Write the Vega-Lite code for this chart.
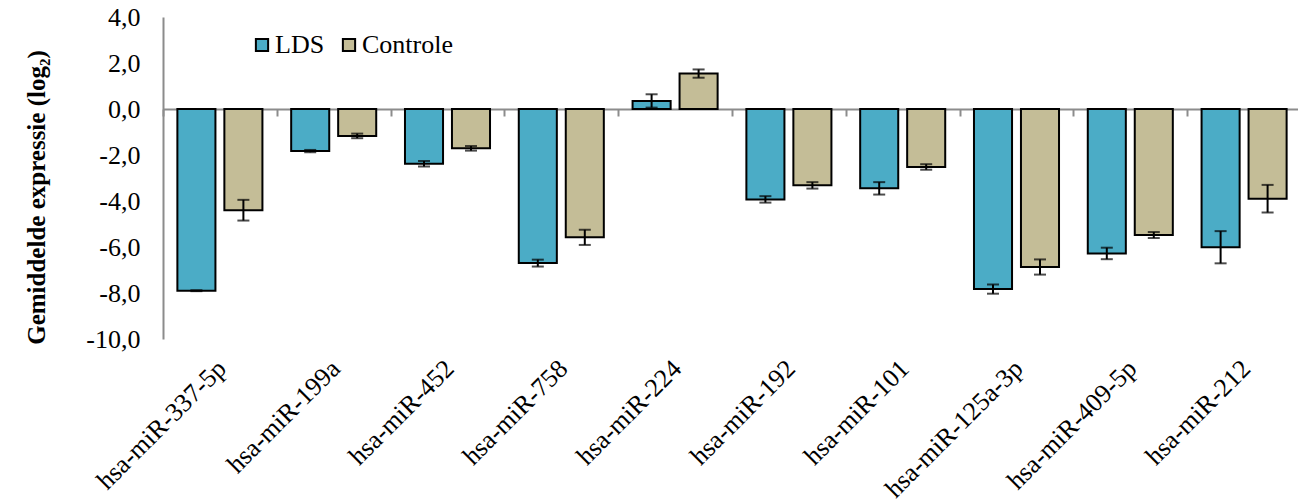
{
  "$schema": "https://vega.github.io/schema/vega-lite/v6.json",
  "autosize": {"type": "none"},
  "padding": {"left": 163, "top": 17, "right": 0, "bottom": 165},
  "width": 1138,
  "height": 322,
  "config": {
    "font": "Liberation Serif",
    "view": {"stroke": null}
  },
  "data": {
    "values": [
      {"mir": "hsa-miR-337-5p", "grp": "LDS", "v": -7.9, "lo": -7.92, "hi": -7.88},
      {"mir": "hsa-miR-337-5p", "grp": "Controle", "v": -4.4, "lo": -4.85, "hi": -3.95},
      {"mir": "hsa-miR-199a", "grp": "LDS", "v": -1.83, "lo": -1.88, "hi": -1.78},
      {"mir": "hsa-miR-199a", "grp": "Controle", "v": -1.17, "lo": -1.27, "hi": -1.07},
      {"mir": "hsa-miR-452", "grp": "LDS", "v": -2.38, "lo": -2.5, "hi": -2.26},
      {"mir": "hsa-miR-452", "grp": "Controle", "v": -1.71, "lo": -1.81, "hi": -1.61},
      {"mir": "hsa-miR-758", "grp": "LDS", "v": -6.7, "lo": -6.85, "hi": -6.55},
      {"mir": "hsa-miR-758", "grp": "Controle", "v": -5.58, "lo": -5.91, "hi": -5.25},
      {"mir": "hsa-miR-224", "grp": "LDS", "v": 0.35, "lo": 0.06, "hi": 0.64},
      {"mir": "hsa-miR-224", "grp": "Controle", "v": 1.54, "lo": 1.36, "hi": 1.72},
      {"mir": "hsa-miR-192", "grp": "LDS", "v": -3.93, "lo": -4.07, "hi": -3.79},
      {"mir": "hsa-miR-192", "grp": "Controle", "v": -3.32, "lo": -3.46, "hi": -3.18},
      {"mir": "hsa-miR-101", "grp": "LDS", "v": -3.45, "lo": -3.72, "hi": -3.18},
      {"mir": "hsa-miR-101", "grp": "Controle", "v": -2.52, "lo": -2.64, "hi": -2.4},
      {"mir": "hsa-miR-125a-3p", "grp": "LDS", "v": -7.83, "lo": -8.03, "hi": -7.63},
      {"mir": "hsa-miR-125a-3p", "grp": "Controle", "v": -6.87, "lo": -7.2, "hi": -6.54},
      {"mir": "hsa-miR-409-5p", "grp": "LDS", "v": -6.28, "lo": -6.53, "hi": -6.03},
      {"mir": "hsa-miR-409-5p", "grp": "Controle", "v": -5.48, "lo": -5.61, "hi": -5.35},
      {"mir": "hsa-miR-212", "grp": "LDS", "v": -6.01, "lo": -6.71, "hi": -5.31},
      {"mir": "hsa-miR-212", "grp": "Controle", "v": -3.9, "lo": -4.5, "hi": -3.3}
    ]
  },
  "resolve": {"axis": {"x": "independent"}},
  "layer": [
    {
      "mark": {"type": "bar", "stroke": "#000000", "strokeWidth": 2},
      "encoding": {
        "x": {
          "field": "mir", "type": "nominal", "sort": null,
          "scale": {"paddingInner": 0, "paddingOuter": 0},
          "axis": {
            "orient": "bottom", "title": null, "domain": false, "ticks": false,
            "labelAngle": -45, "labelFontSize": 26, "labelColor": "#000000",
            "labelPadding": 16, "labelOffset": -7, "labelLimit": 300, "labelFont": "Liberation Serif"
          }
        },
        "xOffset": {
          "field": "grp", "type": "nominal", "sort": ["LDS", "Controle"],
          "scale": {"paddingInner": 0.19, "paddingOuter": 0.306}
        },
        "y": {
          "field": "v", "type": "quantitative",
          "scale": {"domain": [-10, 4], "nice": false},
          "axis": {
            "values": [-10, -8, -6, -4, -2, 0, 2, 4],
            "labelExpr": "replace(replace(format(datum.value, '.1f'), '.', ','), '−', '-')",
            "grid": false, "ticks": false, "domainColor": "#8c8c8c", "domainWidth": 2,
            "labelFontSize": 26, "labelColor": "#000000", "labelPadding": 23,
            "labelFont": "Liberation Serif",
            "title": "Gemiddelde expressie (log₂)",
            "titleFontSize": 25, "titleFontWeight": "bold", "titleColor": "#000000",
            "titleFont": "Liberation Serif", "titlePadding": 36,
            "titleY": 180
          }
        },
        "color": {
          "field": "grp", "type": "nominal", "sort": ["LDS", "Controle"],
          "scale": {"domain": ["LDS", "Controle"], "range": ["#4BACC6", "#C4BD97"]},
          "legend": {
            "orient": "none", "legendX": 86, "legendY": 15, "direction": "horizontal",
            "title": null, "symbolType": "square", "symbolSize": 150,
            "symbolStrokeColor": "#000000", "symbolStrokeWidth": 2,
            "labelFontSize": 26, "labelFont": "Liberation Serif", "labelColor": "#000000",
            "columnPadding": 11, "labelOffset": 0
          }
        }
      }
    },
    {
      "mark": {"type": "rule", "color": "#000000", "strokeWidth": 2},
      "encoding": {
        "x": {
          "field": "mir", "type": "nominal", "sort": null,
          "axis": {
            "orient": "bottom", "offset": -230, "title": null, "labels": false,
            "domainColor": "#8c8c8c", "domainWidth": 2, "tickColor": "#8c8c8c",
            "tickWidth": 2, "tickSize": 7, "tickBand": "extent"
          }
        },
        "xOffset": {"field": "grp", "type": "nominal", "sort": ["LDS", "Controle"]},
        "y": {"field": "lo", "type": "quantitative"},
        "y2": {"field": "hi"}
      }
    },
    {
      "mark": {"type": "tick", "color": "#000000", "thickness": 2, "size": 12, "orient": "horizontal"},
      "encoding": {
        "x": {"field": "mir", "type": "nominal", "sort": null, "axis": null},
        "xOffset": {"field": "grp", "type": "nominal", "sort": ["LDS", "Controle"]},
        "y": {"field": "lo", "type": "quantitative"}
      }
    },
    {
      "mark": {"type": "tick", "color": "#000000", "thickness": 2, "size": 12, "orient": "horizontal"},
      "encoding": {
        "x": {"field": "mir", "type": "nominal", "sort": null, "axis": null},
        "xOffset": {"field": "grp", "type": "nominal", "sort": ["LDS", "Controle"]},
        "y": {"field": "hi", "type": "quantitative"}
      }
    }
  ]
}
